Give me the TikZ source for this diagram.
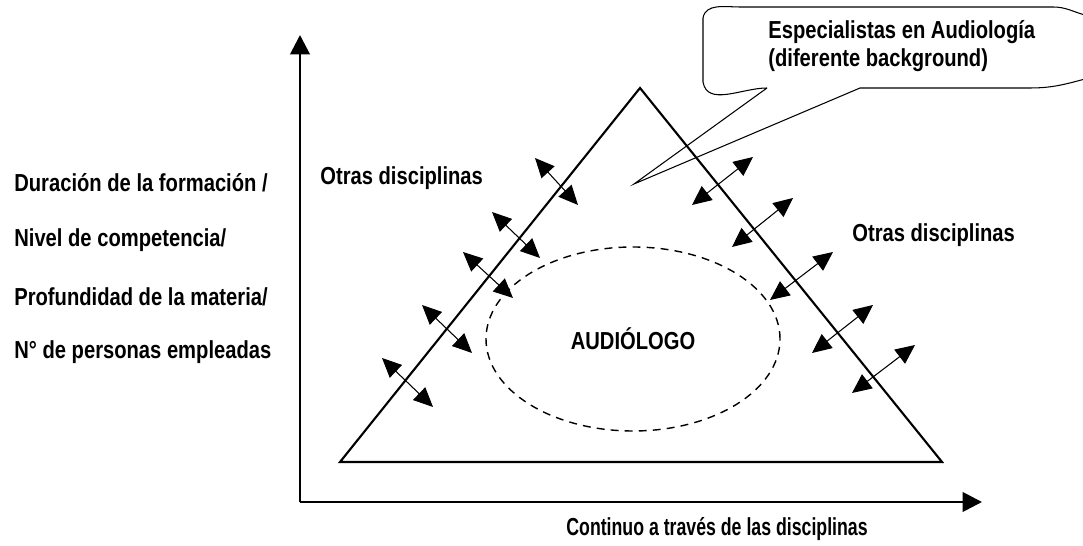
\documentclass[tikz,border=0pt]{standalone}
\usepackage{fontspec}
\setmainfont{Liberation Sans}[FakeStretch=0.82]
\usepackage{tikz}
\usetikzlibrary{arrows.meta,shapes.geometric}

\begin{document}
\begin{tikzpicture}[>={Triangle[length=11pt,width=10pt]},
                    font=\fontsize{14}{16}\selectfont\bfseries]

  \tikzstyle{axis}=[line width=1.6pt,-{Triangle[length=11pt,width=11pt]}]
  \tikzstyle{side}=[line width=1.2pt,line join=miter]
  \tikzstyle{link}=[<->,line width=0.6pt]
  \tikzstyle{lbl}=[inner sep=0pt,anchor=west]

  \useasboundingbox (0,0) rectangle (21.66,10.92);

  % axes and triangle
  \coordinate (O) at (6,0.88);
  \coordinate (Y) at (6,10.22);
  \coordinate (X) at (19.64,0.88);
  \coordinate (T) at (12.8,9.16);
  \coordinate (L) at (6.8,1.68);
  \coordinate (R) at (18.84,1.68);

  \draw[axis] (O) -- (Y);
  \draw[axis] (O) -- (X);
  \draw[side] (L) -- (T) -- (R) -- cycle;

  \node[ellipse,draw,dashed,line width=0.8pt,dash pattern=on 4.5pt off 3.5pt,
        minimum width=5.88cm,minimum height=3.68cm] (AUD) at (12.66,4.14) {AUDIÓLOGO};

  % labels
  \node[lbl] (DUR) at (0.28,7.26) {Duración de la formación /};
  \node[lbl] (NIV) at (0.28,6.12) {Nivel de competencia/};
  \node[lbl] (PRO) at (0.28,4.98) {Profundidad de la materia/};
  \node[lbl] (NUM) at (0.28,3.88) {N° de personas empleadas};
  \node[lbl] (OTL) at (6.4,7.36) {Otras disciplinas};
  \node[lbl] (OTR) at (17.04,6.22) {Otras disciplinas};
  \node[font=\fontsize{14}{16}\selectfont\bfseries\addfontfeatures{FakeStretch=0.72}]
       (CON) at (14.34,0.34) {Continuo a través de las disciplinas};

  % callout
  \node[lbl,align=left] (ESP) at (15.36,10.0) {Especialistas en Audiología\\(diferente background)};
  \coordinate (tip) at (12.68,7.24);
  \draw[line width=0.6pt] (15.34,9.16) -- (tip) -- (17.2,9.16) -- (20.6,9.16)
        to[out=0,in=-165] (21.7,9.34)
        (21.7,10.62) to[out=165,in=0] (21.06,10.78) -- (14.8,10.78)
        to[out=180,in=80] (14.06,10.56) -- (14.06,9.28) to[out=-80,in=180] (15.34,9.16);

  % arrows across the sides
  \coordinate (a1) at (10.70,7.76);  \coordinate (b1) at (11.56,6.82);
  \coordinate (a2) at (9.84,6.68);   \coordinate (b2) at (10.80,5.76);
  \coordinate (a3) at (9.26,5.88);   \coordinate (b3) at (10.26,4.96);
  \coordinate (a4) at (8.44,4.82);   \coordinate (b4) at (9.44,3.86);
  \coordinate (a5) at (7.64,3.76);   \coordinate (b5) at (8.66,2.78);

  \coordinate (c1) at (13.84,6.82);  \coordinate (d1) at (15.06,7.78);
  \coordinate (c2) at (14.64,5.98);  \coordinate (d2) at (15.86,6.96);
  \coordinate (c3) at (15.40,4.92);  \coordinate (d3) at (16.66,5.88);
  \coordinate (c4) at (16.24,3.86);  \coordinate (d4) at (17.46,4.82);
  \coordinate (c5) at (17.04,3.06);  \coordinate (d5) at (18.30,4.02);

  \path
  (a1) edge[link] (b1)
  (a2) edge[link] (b2)
  (a3) edge[link] (b3)
  (a4) edge[link] (b4)
  (a5) edge[link] (b5)
  (c1) edge[link] (d1)
  (c2) edge[link] (d2)
  (c3) edge[link] (d3)
  (c4) edge[link] (d4)
  (c5) edge[link] (d5)
  ;
\end{tikzpicture}
\end{document}
